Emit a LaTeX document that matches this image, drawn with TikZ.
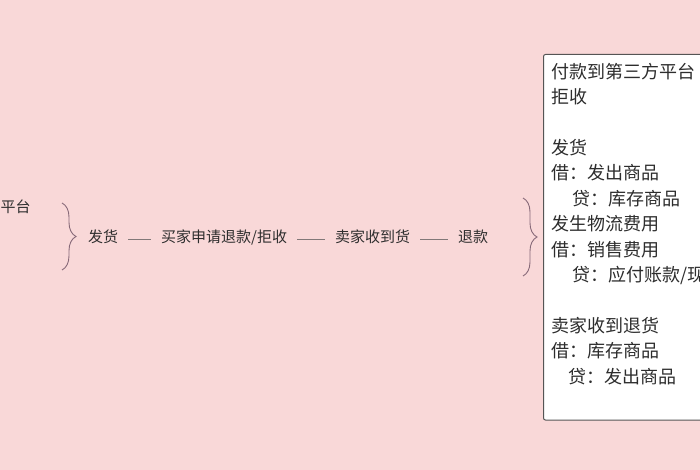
\documentclass[tikz,border=0pt]{standalone}
\usepackage{fontspec}
\setmainfont{Noto Sans CJK SC}
\usetikzlibrary{decorations.pathreplacing}
\definecolor{bgpink}{RGB}{249,216,216}
\definecolor{txt}{RGB}{45,45,45}
\definecolor{linegrey}{RGB}{130,120,120}
\definecolor{bracecol}{RGB}{135,105,120}
\definecolor{boxborder}{RGB}{85,85,85}
\tikzset{
  midtext/.style={inner sep=0pt, text=txt, font=\fontsize{15}{18}\selectfont, text height=0.88em, text depth=0.12em},
  boxtext/.style={inner sep=0pt, anchor=west, text=txt, font=\fontsize{18}{22}\selectfont, text height=0.88em, text depth=0.12em},
  link/.style={draw=linegrey, line width=0.8pt, shorten <=10pt, shorten >=10pt},
  bracestyle/.style={draw=bracecol, line width=0.9pt, decorate, decoration={brace, amplitude=14pt}},
  notebox/.style={draw=boxborder, line width=1pt, fill=white, rounded corners=2pt}
}
\begin{document}
\begin{tikzpicture}[x=1pt,y=-1pt]
\useasboundingbox (0,0) rectangle (700,470);
\clip (0,0) rectangle (700,470);
\fill[bgpink] (0,0) rectangle (700,470);

% left text (the end of a label at the picture's edge)
\node[midtext, anchor=west] (left) at (0.5,209) {平台};

% left brace
\draw[bracestyle] (62,203) -- (62,270);

% middle chain
\node[midtext, anchor=west] (f) at (88,239) {发货};
\node[midtext, anchor=west] (a) at (161,239) {买家申请退款/拒收};
\node[midtext, anchor=west] (b) at (335,239) {卖家收到货};
\node[midtext, anchor=west] (c) at (458,239) {退款};
\draw[link] (f) -- (a);
\draw[link] (a) -- (b);
\draw[link] (b) -- (c);

% right brace
\draw[bracestyle] (523,198) -- (523,276);

% note box
\path[notebox] (543.5,54.5) rectangle (720,420);
\node[boxtext] (l1) at (551,74.5) {付款到第三方平台};
\node[boxtext] (l2) at (551,99.9) {拒收};
\node[boxtext] (l4) at (551,150.7) {发货};
\node[boxtext] (l5) at (551,176.1) {借：发出商品};
\node[boxtext] (l6) at (572,201.5) {贷：库存商品};
\node[boxtext] (l7) at (551,226.9) {发生物流费用};
\node[boxtext] (l8) at (551,252.3) {借：销售费用};
\node[boxtext] (l9) at (572,277.7) {贷：应付账款/现};
\node[boxtext] (l11) at (551,328.5) {卖家收到退货};
\node[boxtext] (l12) at (551,353.9) {借：库存商品};
\node[boxtext] (l13) at (568,379.3) {贷：发出商品};
\end{tikzpicture}
\end{document}
